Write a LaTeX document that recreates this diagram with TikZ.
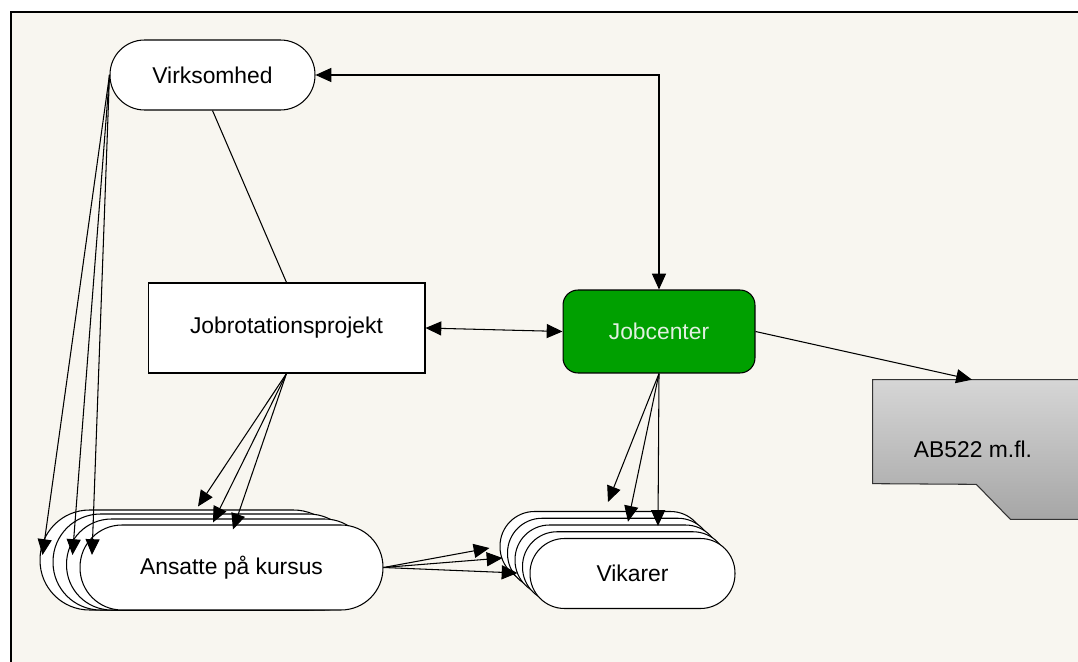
\documentclass[tikz,border=0pt]{standalone}
\usepackage{fontspec}
\setmainfont{Liberation Sans}
\usepackage{tikz}
\usetikzlibrary{arrows.meta,calc}
\definecolor{bgc}{RGB}{248,246,240}
\definecolor{jcgreen}{RGB}{0,160,0}
\definecolor{jctext}{RGB}{225,240,225}
\definecolor{abtop}{RGB}{214,214,214}
\definecolor{abbot}{RGB}{166,166,166}
\tikzset{
  blk/.style={draw, line width=0.6pt, fill=white, align=center, font=\fontsize{13}{15}\selectfont, inner sep=2pt},
  pill/.style={blk, minimum width=4.1cm, minimum height=1.4cm, rounded corners=0.69cm},
  wide/.style={blk, minimum width=6.06cm, minimum height=1.7cm, rounded corners=0.84cm},
  box/.style={blk, minimum width=5.54cm, minimum height=1.8cm},
  jc/.style={blk, fill=jcgreen, text=jctext, minimum width=3.84cm, minimum height=1.66cm, rounded corners=0.3cm},
  lnk/.style={line width=0.6pt},
  arr/.style={lnk, -{Triangle[length=9pt,width=8pt]}},
  arrs/.style={lnk, {Triangle[length=9pt,width=8pt]}-{Triangle[length=9pt,width=8pt]}},
}
\begin{document}
\begin{tikzpicture}[x=0.02cm,y=-0.02cm]
\useasboundingbox (0,0) rectangle (1078,662);
\fill[white] (0,0) rectangle (1078,662);
\fill[bgc] (11,12) rectangle (1090,670);
\draw[line width=1.4pt] (11,670) -- (11,12) -- (1090,12);

\node[pill] (virk) at (212.5,75) {Virksomhed};
\node[box] (jobrot) at (286.5,328) {Jobrotationsprojekt};
\node[jc] (jobc) at (659,331.5) {Jobcenter};
\node[minimum width=4.2cm, minimum height=2.78cm, inner sep=0pt] (ab) at (978,449.5) {};
\shade[top color=abtop, bottom color=abbot, draw=black!80, line width=0.6pt]
  (ab.north west) -- (ab.north east) -- (ab.south east) -- ++(-73,0) -- ++(-34,-35)
  -- ($(ab.north west)+(0,104)$) -- cycle;
\node[font=\fontsize{13}{15}\selectfont] (ablbl) at ($(ab.center)+(-5,0)$) {AB522 m.fl.};

\node[wide, minimum height=2cm, rounded corners=0.99cm] (ansatte1) at (191.5,560) {};
\node[wide, minimum height=1.92cm, rounded corners=0.95cm] (ansatte2) at (204.5,562) {};
\node[wide, minimum height=1.82cm, rounded corners=0.9cm] (ansatte3) at (218,564.5) {};
\node[wide] (ansatte) at (231.5,567.5) {Ansatte på kursus};

\node[pill] (vik1) at (602.5,546.5) {};
\node[pill] (vik2) at (610,553.25) {};
\node[pill] (vik3) at (617.5,560) {};
\node[pill] (vik4) at (625,566.75) {};
\node[pill] (vik) at (632.5,573.5) {Vikarer};

\draw[arrs] (virk.east) -| (jobc.north);
\draw[lnk] (virk.south) -- (jobrot.north);
\draw[arrs] (jobrot.east) -- (jobc.west);
\draw[arr] (jobc.east) -- ($(ab.north)+(-6,0)$);

\draw[arr] (jobrot.south) -- ($(ansatte1.north)+(6.5,-3)$);
\draw[arr] (jobrot.south) -- ($(ansatte3.north)+(-5,4)$);
\draw[arr] (jobrot.south) -- ($(ansatte.north)+(1.5,5)$);

\draw[arr] (virk.west) -- ($(ansatte1.west)+(3,-5)$);
\draw[arr] (virk.west) -- ($(ansatte2.west)+(20,-7)$);
\draw[arr] (virk.west) -- ($(ansatte3.west)+(26,-9.5)$);

\draw[arr] (jobc.south) -- ($(vik1.north)+(5.5,-9)$);
\draw[arr] (jobc.south) -- ($(vik2.north)+(18,4)$);
\draw[arr] (jobc.south) -- ($(vik3.north)+(40.5,1.5)$);

\draw[arr] (ansatte.east) -- ($(vik1.west)+(-10,1.5)$);
\draw[arr] (ansatte.east) -- ($(vik2.west)+(-4.5,4.75)$);
\draw[arr] (ansatte.east) -- ($(vik3.west)+(3,13)$);
\end{tikzpicture}
\end{document}
